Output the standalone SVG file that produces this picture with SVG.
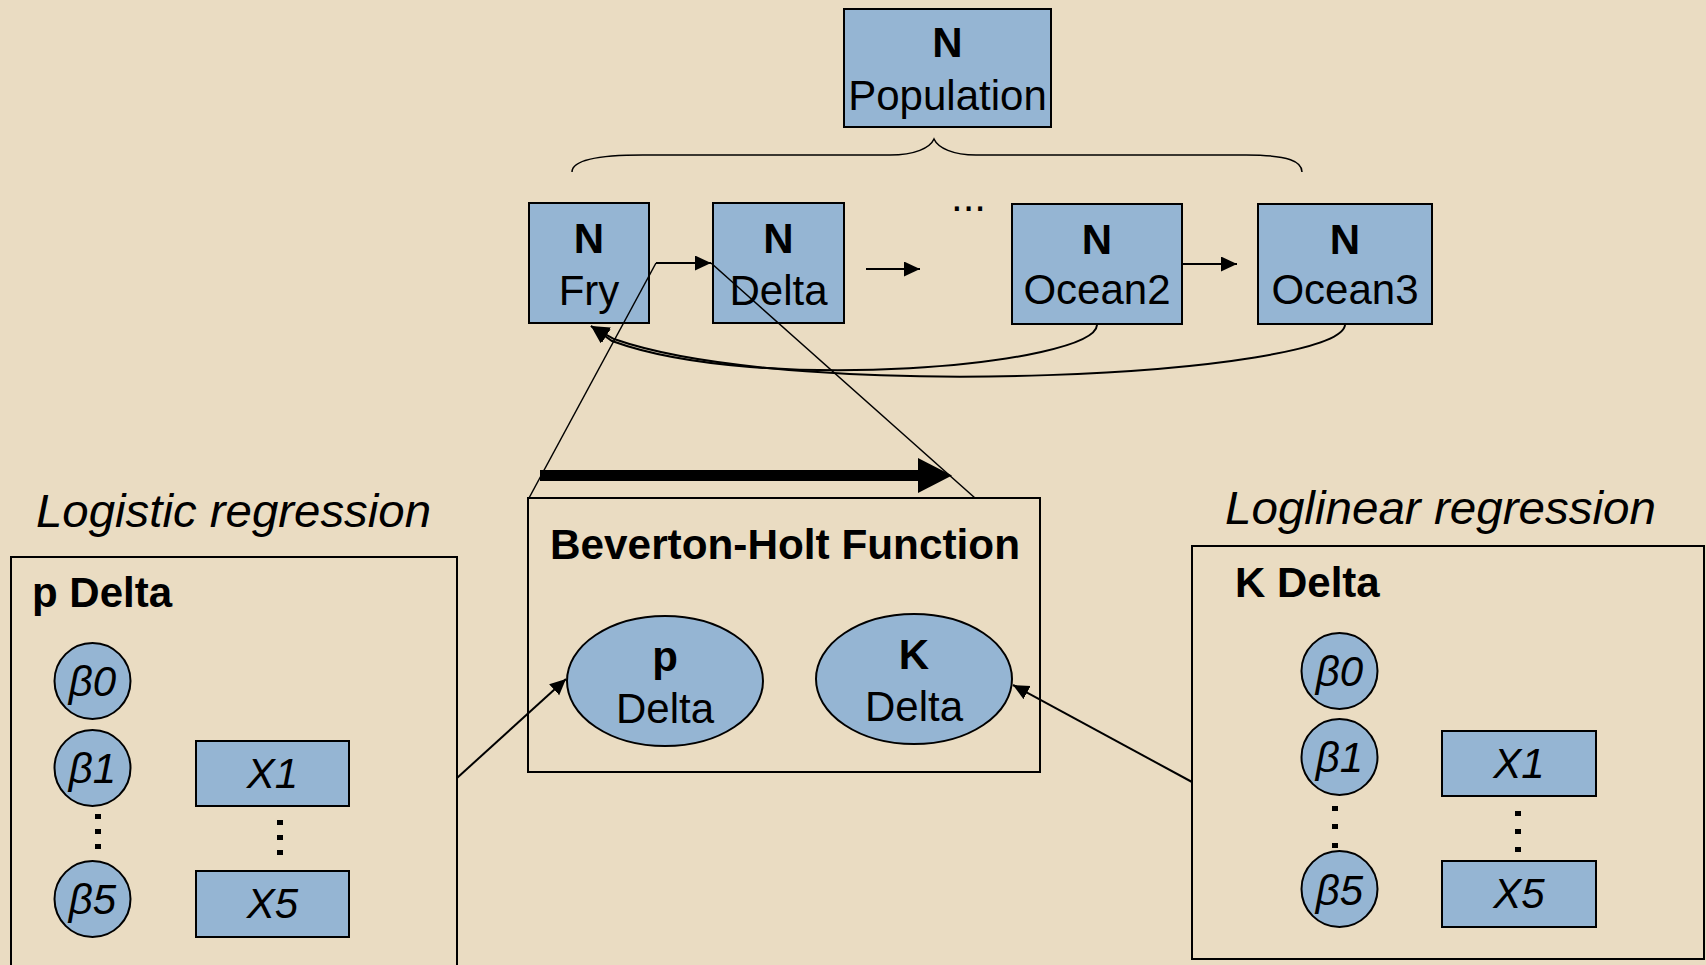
<svg xmlns="http://www.w3.org/2000/svg" width="1706" height="965" viewBox="0 0 1706 965">
  <defs>
    <style>
      .bg { fill: #EADCC2; }
      .node { fill: #95B5D3; stroke: #000; stroke-width: 2; }
      .frame { fill: none; stroke: #000; stroke-width: 2; }
      .wire { fill: none; stroke: #000; stroke-width: 2; }
      .thin { fill: none; stroke: #000; stroke-width: 1.5; }
      .t { font-family: "Liberation Sans", Arial, sans-serif; fill: #000; }
      .lbl { font-size: 42px; text-anchor: middle; }
      .b { font-weight: bold; }
      .i { font-style: italic; }
      .dot { fill: #000; }
    </style>
    <marker id="arr" markerUnits="userSpaceOnUse" markerWidth="18" markerHeight="16" refX="16" refY="7.5" orient="auto">
      <path d="M0,0 L16,7.5 L0,15 z" fill="#000"/>
    </marker>
    <marker id="arr-big" markerUnits="userSpaceOnUse" markerWidth="20" markerHeight="18" refX="18" refY="8.5" orient="auto">
      <path d="M0,0 L18,8.5 L0,17 z" fill="#000"/>
    </marker>
  </defs>

  <rect class="bg" x="0" y="0" width="1706" height="965"/>

  <!-- top population node and brace -->
  <g id="n-population">
    <rect class="node" x="844" y="9" width="207" height="118"/>
    <text class="t lbl b" x="947.5" y="57">N</text>
    <text class="t lbl" x="947.5" y="110">Population</text>
  </g>
  <g id="brace">
    <path class="thin" d="M572,172 C572,162 590,155 643,155 L890,155 C915,155 930,148 934,139 C938,148 953,155 976,155 L1246,155 C1290,155 1302,162 1302,172"/>
  </g>

  <!-- life stage nodes -->
  <g id="n-fry">
    <rect class="node" x="529" y="203" width="120" height="120"/>
    <text class="t lbl b" x="589" y="253">N</text>
    <text class="t lbl" x="589" y="305">Fry</text>
  </g>
  <g id="n-delta">
    <rect class="node" x="713" y="203" width="131" height="120"/>
    <text class="t lbl b" x="778.5" y="253">N</text>
    <text class="t lbl" x="778.5" y="305">Delta</text>
  </g>
  <g id="ellipsis">
    <text class="t" x="951" y="211" font-size="42">...</text>
  </g>
  <g id="n-ocean2">
    <rect class="node" x="1012" y="204" width="170" height="120"/>
    <text class="t lbl b" x="1097" y="254">N</text>
    <text class="t lbl" x="1097" y="304">Ocean2</text>
  </g>
  <g id="n-ocean3">
    <rect class="node" x="1258" y="204" width="174" height="120"/>
    <text class="t lbl b" x="1345" y="254">N</text>
    <text class="t lbl" x="1345" y="304">Ocean3</text>
  </g>

  <!-- Beverton-Holt block -->
  <g id="n-beverton-holt">
    <rect class="frame" x="528" y="498" width="512" height="274"/>
    <text class="t b" x="550" y="559" font-size="42" textLength="470" lengthAdjust="spacingAndGlyphs">Beverton-Holt Function</text>
  </g>
  <g id="n-p-delta">
    <ellipse class="node" cx="665" cy="681" rx="98" ry="65"/>
    <text class="t lbl b" x="665" y="671">p</text>
    <text class="t lbl" x="665" y="723">Delta</text>
  </g>
  <g id="n-k-delta">
    <ellipse class="node" cx="914" cy="679" rx="98" ry="65"/>
    <text class="t lbl b" x="914" y="669">K</text>
    <text class="t lbl" x="914" y="721">Delta</text>
  </g>

  <!-- logistic regression block -->
  <g id="n-logistic">
    <text class="t i" x="36" y="527" font-size="47" textLength="395" lengthAdjust="spacingAndGlyphs">Logistic regression</text>
    <rect class="frame" x="11" y="557" width="446" height="430"/>
    <text class="t b" x="32" y="607" font-size="42">p Delta</text>
    <circle class="node" cx="92.5" cy="681" r="38"/>
    <text class="t lbl i" x="92.5" y="696" font-size="40">β0</text>
    <circle class="node" cx="92.5" cy="768" r="38"/>
    <text class="t lbl i" x="92.5" y="783" font-size="40">β1</text>
    <circle class="node" cx="92.5" cy="899" r="38"/>
    <text class="t lbl i" x="92.5" y="914" font-size="40">β5</text>
    <rect class="dot" x="95" y="814" width="6" height="5"/>
    <rect class="dot" x="95" y="829" width="6" height="5"/>
    <rect class="dot" x="95" y="844" width="6" height="5"/>
    <rect class="node" x="196" y="741" width="153" height="65"/>
    <text class="t lbl i" x="272.5" y="788" font-size="40">X1</text>
    <rect class="dot" x="277" y="820" width="6" height="5"/>
    <rect class="dot" x="277" y="835" width="6" height="5"/>
    <rect class="dot" x="277" y="850" width="6" height="5"/>
    <rect class="node" x="196" y="871" width="153" height="66"/>
    <text class="t lbl i" x="272.5" y="918" font-size="40">X5</text>
  </g>

  <!-- loglinear regression block -->
  <g id="n-loglinear">
    <text class="t i" x="1225" y="524" font-size="47" textLength="431" lengthAdjust="spacingAndGlyphs">Loglinear regression</text>
    <rect class="frame" x="1192" y="546" width="512" height="413"/>
    <text class="t b" x="1235" y="597" font-size="42">K Delta</text>
    <circle class="node" cx="1339.5" cy="671" r="38"/>
    <text class="t lbl i" x="1339.5" y="686" font-size="40">β0</text>
    <circle class="node" cx="1339.5" cy="757" r="38"/>
    <text class="t lbl i" x="1339.5" y="772" font-size="40">β1</text>
    <circle class="node" cx="1339.5" cy="889" r="38"/>
    <text class="t lbl i" x="1339.5" y="905" font-size="40">β5</text>
    <rect class="dot" x="1332" y="806" width="6" height="5"/>
    <rect class="dot" x="1332" y="824" width="6" height="5"/>
    <rect class="dot" x="1332" y="843" width="6" height="5"/>
    <rect class="node" x="1442" y="731" width="154" height="65"/>
    <text class="t lbl i" x="1519" y="778" font-size="40">X1</text>
    <rect class="dot" x="1515" y="811" width="6" height="5"/>
    <rect class="dot" x="1515" y="829" width="6" height="5"/>
    <rect class="dot" x="1515" y="847" width="6" height="5"/>
    <rect class="node" x="1442" y="861" width="154" height="66"/>
    <text class="t lbl i" x="1519" y="908" font-size="40">X5</text>
  </g>

  <!-- connectors -->
  <g id="connectors">
    <line class="wire" x1="656" y1="263" x2="711" y2="263" marker-end="url(#arr)"/>
    <line class="wire" x1="866" y1="269" x2="920" y2="269" marker-end="url(#arr)"/>
    <line class="wire" x1="1182" y1="264" x2="1237" y2="264" marker-end="url(#arr)"/>
    <path class="wire" d="M1097,325 C1095,365 760,395 612,341 L591,326" marker-end="url(#arr-big)"/>
    <path class="wire" d="M1345,325 C1340,375 800,404 614,339 L591,326" marker-end="url(#arr-big)"/>
    <!-- callout lines from the Beverton-Holt block up to the Fry to Delta transition -->
    <line class="thin" x1="529" y1="498" x2="656" y2="263"/>
    <line class="thin" x1="975" y1="498" x2="711" y2="263"/>
    <!-- bold transition arrow -->
    <line x1="540" y1="475.5" x2="920" y2="475.5" stroke="#000" stroke-width="11"/>
    <polygon points="918,458 952,475.5 918,493" fill="#000"/>
    <line class="wire" x1="457" y1="778" x2="566" y2="679" marker-end="url(#arr)"/>
    <line class="wire" x1="1192" y1="782" x2="1013" y2="685" marker-end="url(#arr)"/>
  </g>
</svg>
